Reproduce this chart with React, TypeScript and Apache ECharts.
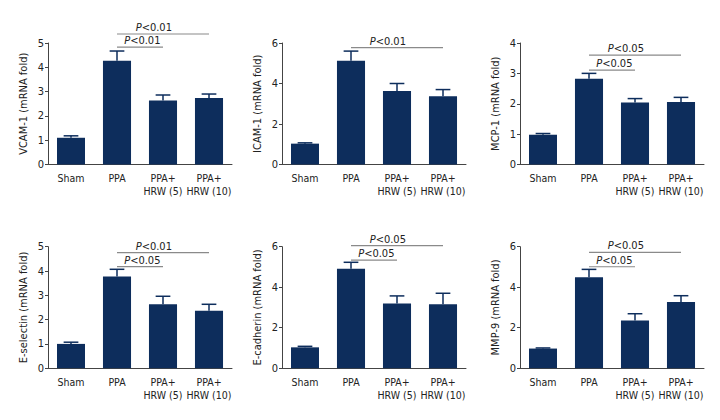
import React, { useEffect, useRef } from "react";
import * as echarts from "echarts";

const categories = ["Sham", "PPA", "PPA+\nHRW (5)", "PPA+\nHRW (10)"];

const yNames = [
  "VCAM-1 (mRNA fold)",
  "ICAM-1 (mRNA fold)",
  "MCP-1 (mRNA fold)",
  "E-selectin (mRNA fold)",
  "E-cadherin (mRNA fold)",
  "MMP-9 (mRNA fold)",
];
const yMax = [5, 6, 4, 5, 6, 6];
const yInterval = [1, 2, 1, 1, 2, 2];

const means = [
  [1.1, 4.27, 2.63, 2.74],
  [1.03, 5.12, 3.63, 3.37],
  [0.98, 2.82, 2.04, 2.06],
  [1.0, 3.77, 2.63, 2.36],
  [1.03, 4.91, 3.19, 3.16],
  [0.97, 4.49, 2.35, 3.27],
];
const upper = [
  [1.18, 4.67, 2.86, 2.9],
  [1.07, 5.6, 4.0, 3.7],
  [1.02, 3.0, 2.17, 2.21],
  [1.07, 4.07, 2.96, 2.63],
  [1.08, 5.23, 3.57, 3.7],
  [1.0, 4.88, 2.69, 3.58],
];

// [fromCategory, toCategory, level, label]
const sig: [number, number, number, string][][] = [
  [[1, 3, 5.37, "<0.01"], [1, 2, 4.83, "<0.01"]],
  [[1, 3, 5.77, "<0.01"]],
  [[1, 3, 3.6, "<0.05"], [1, 2, 3.11, "<0.05"]],
  [[1, 3, 4.76, "<0.01"], [1, 2, 4.18, "<0.05"]],
  [[1, 3, 6.05, "<0.05"], [1, 2, 5.34, "<0.05"]],
  [[1, 3, 5.72, "<0.05"], [1, 2, 5.01, "<0.05"]],
];

const FONT = "'DejaVu Sans Condensed', 'Liberation Sans Narrow', sans-serif";
const BAR = "#0d2d5c";
const AXIS = "#444";
const TXT = "#222";

const gridLefts = [48, 282, 520];
const gridTops = [43, 246.7];
const gridW = 184;
const gridH = 121.5;

export default function App() {
  const ref = useRef<HTMLDivElement>(null);
  useEffect(() => {
    if (!ref.current) return;
    const chart = echarts.init(ref.current, null, { renderer: "svg" });
    const grid: any[] = [];
    const xAxis: any[] = [];
    const yAxis: any[] = [];
    const series: any[] = [];
    for (let i = 0; i < 6; i++) {
      grid.push({
        left: gridLefts[i % 3],
        top: gridTops[Math.floor(i / 3)],
        width: gridW,
        height: gridH,
      });
      xAxis.push({
        type: "category",
        gridIndex: i,
        data: categories,
        axisLine: { lineStyle: { color: AXIS, width: 1 } },
        axisTick: { alignWithLabel: true, length: 3, lineStyle: { color: AXIS } },
        axisLabel: {
          interval: 0,
          fontFamily: FONT,
          fontSize: 10.5,
          color: TXT,
          margin: 7,
          lineHeight: 13,
        },
      });
      yAxis.push({
        type: "value",
        gridIndex: i,
        min: 0,
        max: yMax[i],
        interval: yInterval[i],
        name: yNames[i],
        nameLocation: "middle",
        nameRotate: 90,
        nameGap: 19,
        nameTextStyle: { fontFamily: FONT, fontSize: 11, color: TXT },
        splitLine: { show: false },
        axisLine: { show: true, lineStyle: { color: AXIS, width: 1 } },
        axisTick: { show: true, length: 3, lineStyle: { color: AXIS } },
        axisLabel: { fontFamily: FONT, fontSize: 11, color: TXT, margin: 4 },
      });
      series.push({
        type: "bar",
        xAxisIndex: i,
        yAxisIndex: i,
        data: means[i],
        barWidth: "61%",
        itemStyle: { color: BAR },
        z: 2,
      });
      series.push({
        type: "custom",
        xAxisIndex: i,
        yAxisIndex: i,
        data: means[i].map((m, k) => [k, m, upper[i][k]]),
        z: 3,
        renderItem: (params: any, api: any) => {
          const x = api.value(0);
          const p0 = api.coord([x, api.value(1)]);
          const p1 = api.coord([x, api.value(2)]);
          const hw = api.size([1, 0])[0] * 0.16;
          const st = { stroke: BAR, lineWidth: 1.5 };
          return {
            type: "group",
            children: [
              { type: "line", shape: { x1: p0[0], y1: p0[1], x2: p1[0], y2: p1[1] }, style: st },
              { type: "line", shape: { x1: p1[0] - hw, y1: p1[1], x2: p1[0] + hw, y2: p1[1] }, style: st },
            ],
          };
        },
      });
      series.push({
        type: "custom",
        xAxisIndex: i,
        yAxisIndex: i,
        clip: false,
        data: sig[i].map((s) => [s[0], s[1], s[2], s[3]]),
        z: 4,
        renderItem: (params: any, api: any) => {
          const a = api.value(0);
          const b = api.value(1);
          const lv = api.value(2);
          const d = sig[i][params.dataIndex];
          const p0 = api.coord([a, lv]);
          const p1 = api.coord([b, lv]);
          const frac = b - a > 1 ? 0.4 : 0.55;
          const tx = p0[0] + (p1[0] - p0[0]) * frac;
          return {
            type: "group",
            children: [
              {
                type: "line",
                shape: { x1: p0[0], y1: p0[1], x2: p1[0], y2: p1[1] },
                style: { stroke: "#8a8a8a", lineWidth: 1.2 },
              },
              {
                type: "text",
                x: tx,
                y: p0[1] - 1,
                style: {
                  text: "{i|P}" + d[3],
                  rich: { i: { fontStyle: "italic", fontFamily: FONT, fontSize: 11, fill: TXT } },
                  fontFamily: FONT,
                  fontSize: 11,
                  fill: TXT,
                  align: "center",
                  verticalAlign: "bottom",
                },
              },
            ],
          };
        },
      });
    }
    chart.setOption({
      animation: false,
      backgroundColor: "#fff",
      grid,
      xAxis,
      yAxis,
      series,
    });
    return () => chart.dispose();
  }, []);
  return <div ref={ref} style={{ width: 720, height: 420, position: "absolute", left: 0, top: 0 }} />;
}
